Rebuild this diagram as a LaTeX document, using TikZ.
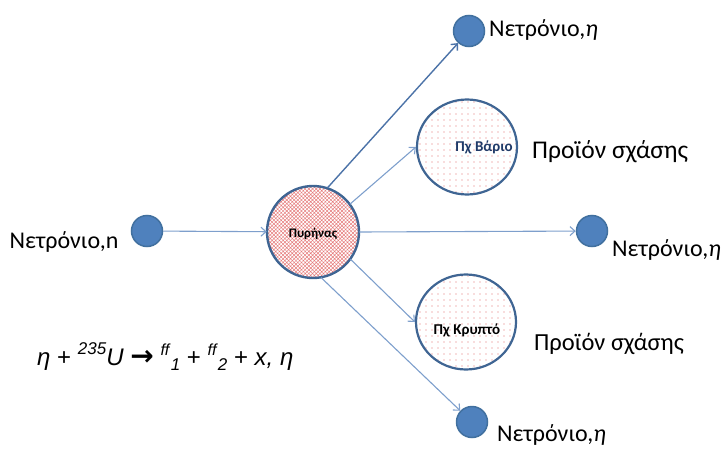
\documentclass[tikz,border=0pt]{standalone}
\usepackage{fontspec}
\setmainfont{Carlito}
\newfontfamily\eqfont{Liberation Sans}
\newfontfamily\arrowfont{DejaVu Sans}
\usetikzlibrary{shapes.geometric,arrows.meta,patterns.meta}
\definecolor{edgeblue}{HTML}{3F6593}
\definecolor{neutfill}{HTML}{4F81BD}
\definecolor{neutedge}{HTML}{41709F}
\definecolor{arrowblue}{HTML}{7E9FCC}
\definecolor{darkarrow}{HTML}{4C73A8}
\definecolor{hatchred}{HTML}{E57C7C}
\definecolor{dotred}{HTML}{E06A6A}
\definecolor{labelnavy}{HTML}{1F3A68}
\begin{document}
\begin{tikzpicture}[x=1pt,y=-1pt,
  neutron/.style={circle,fill=neutfill,draw=neutedge,line width=1.5pt,minimum size=31pt,inner sep=0pt},
  product/.style={ellipse,draw=edgeblue,line width=2.2pt,fill=white,
     pattern={Dots[distance=6pt,radius=0.7pt]},pattern color=dotred,
     minimum width=100pt,minimum height=95pt,inner sep=0pt},
  nucleus/.style={circle,draw=edgeblue,line width=2.4pt,
     pattern={Hatch[angle=45,distance=2.6pt,line width=0.5pt]},pattern color=hatchred,
     minimum size=92pt,inner sep=0pt},
  flow/.style={draw=arrowblue,line width=1.1pt,-{Straight Barb[length=5pt,width=9pt]}},
  biglabel/.style={font=\fontsize{24}{28}\selectfont,inner sep=0pt},
  smalllabel/.style={font=\bfseries\fontsize{13}{15}\selectfont,inner sep=0pt}
]
\useasboundingbox (0,0) rectangle (726,450);
% nodes
\node[neutron] (nin) at (147,231) {};
\node[nucleus] (nuc) at (313,232) {};
\node[smalllabel] (nuclbl) at (313,234) {Πυρήνας};
\node[neutron] (ntop) at (469,31) {};
\node[product] (ba) at (467,147) {};
\node[neutron] (nright) at (592,231) {};
\node[product] (kr) at (466,322) {};
\node[neutron] (nbot) at (472,422) {};
% labels
\node[biglabel,anchor=base] (lin) at (64,248) {Νετρόνιο,n};
\node[biglabel,anchor=base west] (ltop) at (489,36) {Νετρόνιο,\textit{η}};
\node[biglabel,anchor=base west] (lright) at (612,256) {Νετρόνιο,\textit{η}};
\node[biglabel,anchor=base west] (lbot) at (497,441) {Νετρόνιο,\textit{η}};
\node[biglabel,anchor=base west,font=\fontsize{25.5}{28}\selectfont] (pba) at (532,158) {Προϊόν σχάσης};
\node[biglabel,anchor=base west,font=\fontsize{24.5}{28}\selectfont] (pkr) at (534,350) {Προϊόν σχάσης};
\node[smalllabel,text=labelnavy,font=\bfseries\fontsize{15}{17}\selectfont] (baname) at (484,147) {Πχ Βάριο};
\node[smalllabel,font=\bfseries\fontsize{15}{17}\selectfont] (krname) at (467,330) {Πχ Κρυπτό};
\node[anchor=base west,inner sep=0pt,font=\eqfont\fontsize{24}{27}\selectfont] (eq) at (37,365)
  {\textit{η} + \raisebox{0.42em}{\fontsize{17}{18}\selectfont\textit{235}}\textit{U}
   {\arrowfont\bfseries\fontsize{28}{28}\selectfont →}
   \raisebox{0.4em}{\fontsize{16}{17}\selectfont\textit{ff}}\raisebox{-0.22em}{\fontsize{17}{18}\selectfont\textit{1}}
   + \raisebox{0.4em}{\fontsize{16}{17}\selectfont\textit{ff}}\raisebox{-0.22em}{\fontsize{17}{18}\selectfont\textit{2}}
   + \textit{x, η}};
% connectors
\draw[flow] (nin) -- (nuc);
\draw[flow,draw=darkarrow,line width=1.4pt] (nuc.72) -- (ntop);
\draw[flow] (nuc.37) -- (ba.west);
\draw[flow] (nuc.east) -- (nright);
\draw[flow] (nuc.-36) -- (kr.west);
\draw[flow] (nuc.-80) -- (nbot);
\end{tikzpicture}
\end{document}
